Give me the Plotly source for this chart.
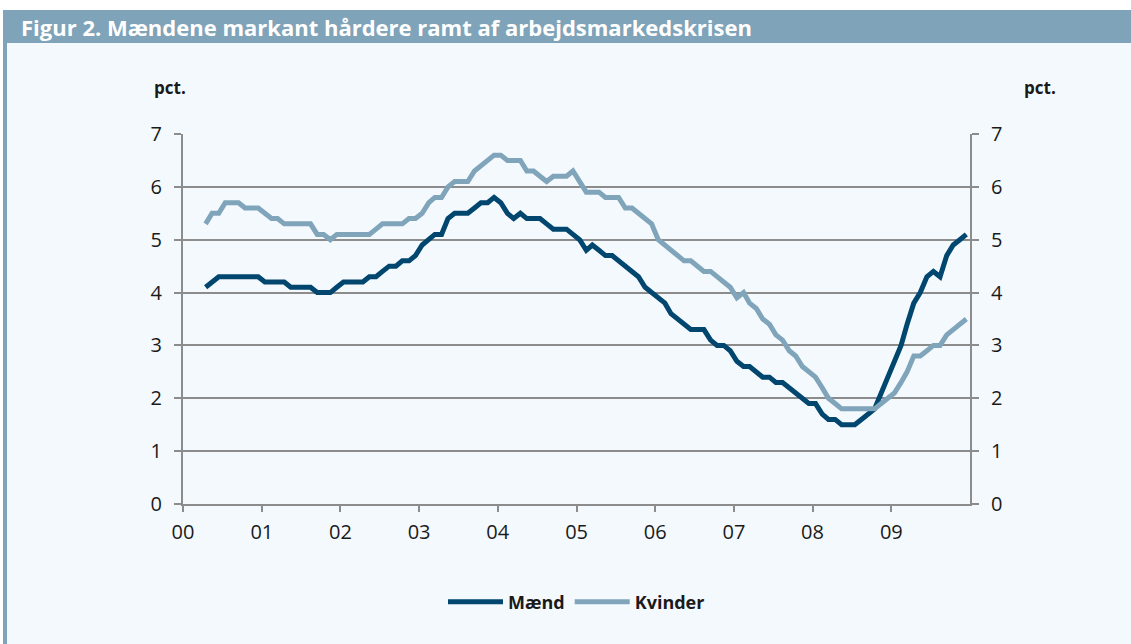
import pandas as pd
import plotly.graph_objects as go

# ---------------- data ----------------
months = pd.date_range("2000-04-01", "2009-12-01", freq="MS") + pd.Timedelta(days=14)

maend = [
    4.1, 4.2, 4.3, 4.3, 4.3, 4.3, 4.3, 4.3, 4.3,                      # 2000 apr-dec
    4.2, 4.2, 4.2, 4.2, 4.1, 4.1, 4.1, 4.1, 4.0, 4.0, 4.0, 4.1,       # 2001
    4.2, 4.2, 4.2, 4.2, 4.3, 4.3, 4.4, 4.5, 4.5, 4.6, 4.6, 4.7,       # 2002
    4.9, 5.0, 5.1, 5.1, 5.4, 5.5, 5.5, 5.5, 5.6, 5.7, 5.7, 5.8,       # 2003
    5.7, 5.5, 5.4, 5.5, 5.4, 5.4, 5.4, 5.3, 5.2, 5.2, 5.2, 5.1,       # 2004
    5.0, 4.8, 4.9, 4.8, 4.7, 4.7, 4.6, 4.5, 4.4, 4.3, 4.1, 4.0,       # 2005
    3.9, 3.8, 3.6, 3.5, 3.4, 3.3, 3.3, 3.3, 3.1, 3.0, 3.0, 2.9,       # 2006
    2.7, 2.6, 2.6, 2.5, 2.4, 2.4, 2.3, 2.3, 2.2, 2.1, 2.0, 1.9,       # 2007
    1.9, 1.7, 1.6, 1.6, 1.5, 1.5, 1.5, 1.6, 1.7, 1.8, 2.1, 2.4,       # 2008
    2.7, 3.0, 3.4, 3.8, 4.0, 4.3, 4.4, 4.3, 4.7, 4.9, 5.0, 5.1,       # 2009
]

kvinder = [
    5.3, 5.5, 5.5, 5.7, 5.7, 5.7, 5.6, 5.6, 5.6,                      # 2000 apr-dec
    5.5, 5.4, 5.4, 5.3, 5.3, 5.3, 5.3, 5.3, 5.1, 5.1, 5.0, 5.1,       # 2001
    5.1, 5.1, 5.1, 5.1, 5.1, 5.2, 5.3, 5.3, 5.3, 5.3, 5.4, 5.4,       # 2002
    5.5, 5.7, 5.8, 5.8, 6.0, 6.1, 6.1, 6.1, 6.3, 6.4, 6.5, 6.6,       # 2003
    6.6, 6.5, 6.5, 6.5, 6.3, 6.3, 6.2, 6.1, 6.2, 6.2, 6.2, 6.3,       # 2004
    6.1, 5.9, 5.9, 5.9, 5.8, 5.8, 5.8, 5.6, 5.6, 5.5, 5.4, 5.3,       # 2005
    5.0, 4.9, 4.8, 4.7, 4.6, 4.6, 4.5, 4.4, 4.4, 4.3, 4.2, 4.1,       # 2006
    3.9, 4.0, 3.8, 3.7, 3.5, 3.4, 3.2, 3.1, 2.9, 2.8, 2.6, 2.5,       # 2007
    2.4, 2.2, 2.0, 1.9, 1.8, 1.8, 1.8, 1.8, 1.8, 1.8, 1.9, 2.0,       # 2008
    2.1, 2.3, 2.5, 2.8, 2.8, 2.9, 3.0, 3.0, 3.2, 3.3, 3.4, 3.5,       # 2009
]

year_ticks = [f"{y}-01-01" for y in range(2000, 2010)]
year_labels = ["00", "01", "02", "03", "04", "05", "06", "07", "08", "09"]
y_ticks = [0, 1, 2, 3, 4, 5, 6, 7]

title_text = "Figur 2. Mændene markant hårdere ramt af arbejdsmarkedskrisen"
unit_text = "pct."

# ---------------- styling ----------------
W, H = 1131, 644
L, R, T, B = 183, 161, 134, 140
FONT = "Open Sans"
BG = "#f4f9fd"
BAR = "#7fa3b8"
GRID = "#8c8c8c"
C_M = "#00466e"
C_K = "#80a5bb"
TXT = "#1a1a1a"


def px(x):
    return (x - L) / (W - L - R)


def py(y):
    return (H - B - y) / (H - T - B)


fig = go.Figure()
fig.add_trace(go.Scatter(x=months, y=maend, name="Mænd", mode="lines",
                         line=dict(color=C_M, width=5)))
fig.add_trace(go.Scatter(x=months, y=kvinder, name="Kvinder", mode="lines",
                         line=dict(color=C_K, width=5)))
fig.add_trace(go.Scatter(x=months, y=kvinder, yaxis="y2", mode="lines",
                         line=dict(width=0, color="rgba(0,0,0,0)"),
                         showlegend=False, hoverinfo="skip"))

axis_common = dict(
    range=[0, 7], tickvals=y_ticks, ticks="outside", ticklen=7, tickwidth=2,
    tickcolor=GRID, showline=True, linecolor=GRID, linewidth=2, zeroline=False,
    tickfont=dict(family=FONT, size=20, color=TXT), ticklabelstandoff=8,
    fixedrange=True,
)

fig.update_layout(
    width=W, height=H,
    margin=dict(l=L, r=R, t=T, b=B),
    paper_bgcolor=BG, plot_bgcolor=BG,
    font=dict(family=FONT, color=TXT),
    xaxis=dict(
        type="date", range=["2000-01-01", "2010-01-01"],
        tickvals=year_ticks, ticktext=year_labels,
        ticks="outside", ticklen=6, tickwidth=2, tickcolor=GRID,
        showline=True, linecolor=GRID, linewidth=2, showgrid=False,
        zeroline=False, tickfont=dict(family=FONT, size=20, color=TXT),
        ticklabelstandoff=3, fixedrange=True,
    ),
    yaxis=dict(showgrid=True, gridcolor=GRID, gridwidth=2, **axis_common),
    yaxis2=dict(overlaying="y", side="right", showgrid=False, **axis_common),
    legend=dict(orientation="h", x=0.5, xanchor="center", y=py(602), yanchor="middle",
                font=dict(family=FONT, size=18, color=TXT, weight="bold"),
                itemwidth=55, bgcolor="rgba(0,0,0,0)", traceorder="normal"),
    showlegend=True,
)

shapes = [
    dict(type="rect", xref="paper", yref="paper", x0=px(0), x1=px(W), y0=py(0), y1=py(10),
         fillcolor="white", line=dict(width=0), layer="below"),
    dict(type="rect", xref="paper", yref="paper", x0=px(0), x1=px(3), y0=py(0), y1=py(H),
         fillcolor="white", line=dict(width=0), layer="below"),
    dict(type="rect", xref="paper", yref="paper", x0=px(3), x1=px(W), y0=py(10), y1=py(43),
         fillcolor=BAR, line=dict(width=0), layer="below"),
    dict(type="rect", xref="paper", yref="paper", x0=px(3), x1=px(7), y0=py(43), y1=py(H),
         fillcolor=BAR, line=dict(width=0), layer="below"),
]
fig.update_layout(shapes=shapes)

fig.add_annotation(text=f"<b>{title_text}</b>", xref="paper", yref="paper",
                   x=px(19), y=py(27), xanchor="left", yanchor="middle", showarrow=False,
                   font=dict(family=FONT, size=22, color="white"))
fig.add_annotation(text=f"<b>{unit_text}</b>", xref="paper", yref="paper",
                   x=px(170), y=py(88), xanchor="center", yanchor="middle", showarrow=False,
                   font=dict(family=FONT, size=17, color=TXT))
fig.add_annotation(text=f"<b>{unit_text}</b>", xref="paper", yref="paper",
                   x=px(1040), y=py(88), xanchor="center", yanchor="middle", showarrow=False,
                   font=dict(family=FONT, size=17, color=TXT))

fig.write_html("out.html", config={"displayModeBar": False},
               post_script="document.body.style.margin='0';")
